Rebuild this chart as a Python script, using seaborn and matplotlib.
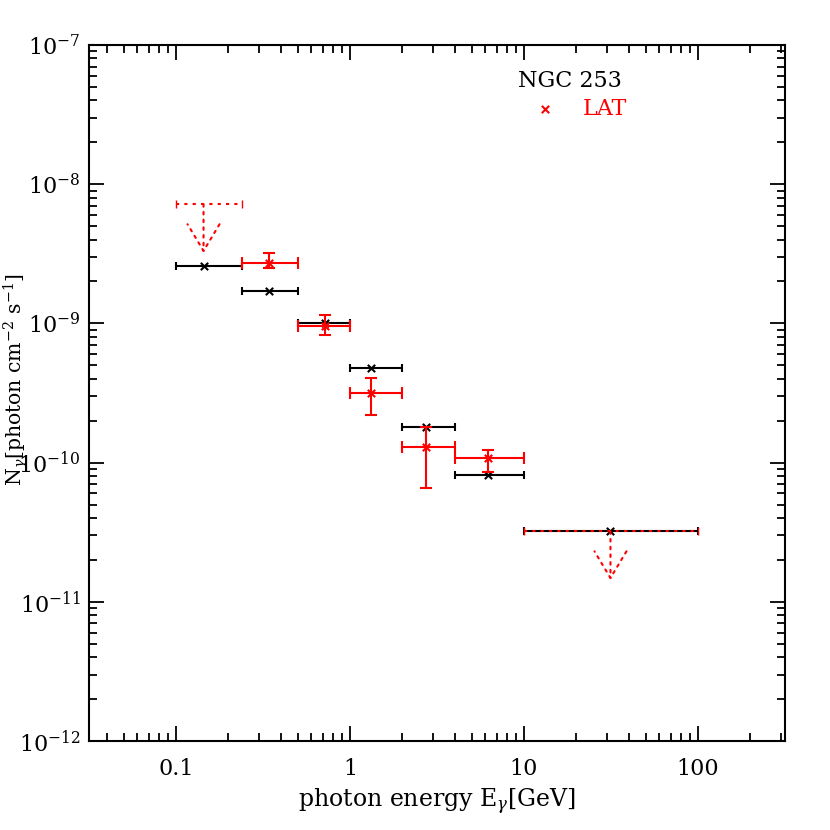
import numpy as np
import pandas as pd
import matplotlib
matplotlib.use("Agg")
import matplotlib.pyplot as plt
import seaborn as sns

# energy bins (GeV)
bin_lo = [0.1, 0.24, 0.5, 1.0, 2.0, 4.0, 10.0]
bin_hi = [0.24, 0.5, 1.0, 2.0, 4.0, 10.0, 100.0]
bin_center = [0.144, 0.342, 0.716, 1.32, 2.72, 6.24, 31.4]

# black points (model)
model_flux = [2.6e-9, 1.71e-9, 1.0e-9, 4.82e-10, 1.80e-10, 8.2e-11, 3.21e-11]

# LAT detections (bins 2..6)
lat_idx = [1, 2, 3, 4, 5]
lat_flux = [2.72e-9, 9.65e-10, 3.18e-10, 1.29e-10, 1.08e-10]
lat_hi = [3.18e-9, 1.15e-9, 4.06e-10, 1.80e-10, 1.23e-10]
lat_lo = [2.48e-9, 8.2e-10, 2.21e-10, 6.58e-11, 8.57e-11]

# LAT upper limits (first and last bin)
ul_idx = [0, 6]
ul_flux = [7.18e-9, 3.21e-11]

sns.set_style("ticks")
plt.rcParams["font.family"] = ["DejaVu Serif"]
plt.rcParams["mathtext.fontset"] = "dejavuserif"
plt.rcParams["text.color"] = "black"
plt.rcParams["axes.labelcolor"] = "black"

fig = plt.figure(figsize=(8.3, 8.3), dpi=100)
ax = fig.add_axes([0.1072, 0.1072, 0.8386, 0.8386])

xc = np.array(bin_center)
xerr = np.array([xc - np.array(bin_lo), np.array(bin_hi) - xc])

df_model = pd.DataFrame({"E": bin_center, "N": model_flux})
df_lat = pd.DataFrame({"E": xc[lat_idx], "N": lat_flux})

# black model bars
ax.errorbar(bin_center, model_flux, xerr=xerr, fmt="none", ecolor="black",
            elinewidth=1.5, capsize=3, capthick=1.5, zorder=2)
sns.scatterplot(data=df_model, x="E", y="N", ax=ax, marker="x", color="black",
                s=28, linewidth=1.5, zorder=3)

# red LAT detections
lat_yerr = np.array([np.array(lat_flux) - np.array(lat_lo),
                     np.array(lat_hi) - np.array(lat_flux)])
ax.errorbar(xc[lat_idx], lat_flux, xerr=xerr[:, lat_idx], yerr=lat_yerr,
            fmt="none", ecolor="red", elinewidth=1.5, capsize=4, capthick=1.5,
            zorder=4)
sns.scatterplot(data=df_lat, x="E", y="N", ax=ax, marker="x", color="red",
                s=28, linewidth=1.5, zorder=5, label="LAT")

# red upper limits, dotted
eb = ax.errorbar(xc[ul_idx], ul_flux, xerr=xerr[:, ul_idx], fmt="none",
                 ecolor="red", elinewidth=1.5, capsize=3, capthick=1.0, zorder=4)
eb[2][0].set_linestyle((0, (1.5, 2.5)))
for xi, yi in zip(xc[ul_idx], ul_flux):
    ax.annotate("", xy=(xi, yi * 10 ** -0.35), xytext=(xi, yi),
                arrowprops=dict(arrowstyle="->,head_length=0.4,head_width=0.24",
                                mutation_scale=48, color="red", lw=1.5,
                                linestyle=(0, (1.2, 2.5)), shrinkA=0, shrinkB=0),
                zorder=4)

ax.set_xscale("log")
ax.set_yscale("log")
ax.set_xlim(10 ** -1.5, 10 ** 2.5)
ax.set_ylim(1e-12, 1e-7)

ax.set_xticks([0.1, 1, 10, 100])
ax.set_xticklabels(["0.1", "1", "10", "100"])

ax.tick_params(which="both", direction="in", top=True, right=True,
               labelsize=16, width=1.3, colors="black")
ax.tick_params(which="major", length=11)
ax.tick_params(which="minor", length=6)
ax.tick_params(axis="x", which="major", pad=12)
ax.tick_params(axis="y", which="major", pad=6)
for sp in ax.spines.values():
    sp.set_linewidth(1.5)
    sp.set_color("black")

ax.set_xlabel(r"photon energy E$_\gamma$[GeV]", fontsize=17)
ax.xaxis.set_label_coords(0.5, -0.066)
ax.set_ylabel(r"N$_\gamma$[photon cm$^{-2}$ s$^{-1}$]", fontsize=14.7)
ax.yaxis.set_label_coords(-0.084, 0.52)

leg = ax.legend(loc="center", bbox_to_anchor=(0.695, 0.928), frameon=False,
                title="NGC 253", fontsize=16, title_fontsize=16,
                labelcolor="red", handlelength=2.4, handletextpad=0.52,
                borderaxespad=0, borderpad=0, labelspacing=0.25,
                alignment="left")
leg.get_title().set_color("black")

fig.savefig("out.png", dpi=100, facecolor="white")
